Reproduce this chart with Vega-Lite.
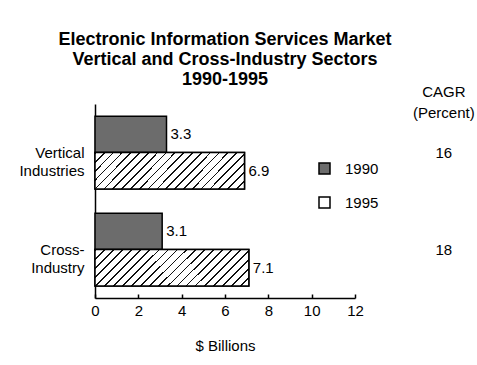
{
  "$schema": "https://vega.github.io/schema/vega-lite/v6.json",
  "autosize": {"type": "none"},
  "padding": {"left": 95, "top": 104, "right": 122, "bottom": 67},
  "width": 260,
  "height": 194,
  "config": {
    "font": "Liberation Sans",
    "view": {"stroke": null},
    "background": "white"
  },
  "title": {
    "text": ["Electronic Information Services Market", "Vertical and Cross-Industry Sectors", "1990-1995"],
    "fontSize": 18,
    "fontWeight": "bold",
    "lineHeight": 20,
    "color": "black",
    "anchor": "middle",
    "frame": "group",
    "offset": 7,
    "dy": 11
  },
  "datasets": {
    "market": [
      {"sector": "Vertical Industries", "year": "1990", "value": 3.3},
      {"sector": "Vertical Industries", "year": "1995", "value": 6.9},
      {"sector": "Cross-Industry", "year": "1990", "value": 3.1},
      {"sector": "Cross-Industry", "year": "1995", "value": 7.1}
    ],
    "cagr": [
      {"sector": "Vertical Industries", "cagr": 16},
      {"sector": "Cross-Industry", "cagr": 18}
    ],
    "header": [
      {"label": "CAGR\n(Percent)"}
    ]
  },
  "data": {"name": "market"},
  "encoding": {
    "y": {
      "field": "sector",
      "type": "nominal",
      "scale": {"domain": ["Vertical Industries", "Cross-Industry"], "paddingInner": 0.25, "paddingOuter": 0.125},
      "axis": {
        "title": null,
        "ticks": false,
        "domainColor": "black",
        "domainWidth": 1.5,
        "labelFontSize": 15,
        "labelColor": "black",
        "labelPadding": 11,
        "labelLineHeight": 18,
        "labelExpr": "datum.value == 'Cross-Industry' ? ['Cross-', 'Industry'] : split(datum.value, ' ')"
      }
    }
  },
  "layer": [
    {
      "mark": {"type": "bar", "stroke": "black", "strokeWidth": 1.5},
      "encoding": {
        "x": {
          "field": "value",
          "type": "quantitative",
          "scale": {"domain": [0, 12], "nice": false},
          "axis": {
            "title": "$ Billions",
            "titleFontSize": 15,
            "titleFontWeight": "normal",
            "titleColor": "black",
            "titlePadding": 20,
            "values": [0, 1, 2, 3, 4, 5, 6, 7, 8, 9, 10, 11, 12],
            "labelExpr": "datum.value % 2 === 0 ? datum.label : ''",
            "labelFontSize": 15,
            "labelColor": "black",
            "labelFlush": false,
            "labelPadding": 9,
            "tickSize": -4,
            "tickColor": "black",
            "tickWidth": 1.5,
            "domainColor": "black",
            "domainWidth": 1.5,
            "grid": false
          }
        },
        "yOffset": {"field": "year", "type": "nominal", "scale": {"domain": ["1990", "1995"], "paddingInner": 0, "paddingOuter": 0}},
        "fill": {
          "field": "year",
          "type": "nominal",
          "scale": {"domain": ["1990", "1995"], "range": ["#6c6c6c", "#ffffff"]},
          "legend": {
            "title": null,
            "orient": "none",
            "legendX": 222,
            "legendY": 57,
            "padding": 0,
            "symbolType": "square",
            "symbolSize": 121,
            "symbolStrokeColor": "black",
            "symbolStrokeWidth": 1.5,
            "labelFontSize": 15,
            "labelColor": "black",
            "labelOffset": 13,
            "rowPadding": 17
          }
        }
      }
    },
    {
      "transform": [{"filter": "datum.year == '1995'"}],
      "mark": {
        "type": "bar",
        "stroke": "black",
        "strokeWidth": 1.5,
        "fill": {
          "gradient": "linear",
          "x1": 0, "y1": 0, "x2": 1.1725, "y2": 0.2815,
          "stops": [
            {"offset": 0.0, "color": "#111"}, {"offset": 0.009, "color": "#111"}, {"offset": 0.009, "color": "#fff"}, {"offset": 0.047619, "color": "#fff"},
            {"offset": 0.047619, "color": "#111"}, {"offset": 0.056619, "color": "#111"}, {"offset": 0.056619, "color": "#fff"}, {"offset": 0.095238, "color": "#fff"},
            {"offset": 0.095238, "color": "#111"}, {"offset": 0.104238, "color": "#111"}, {"offset": 0.104238, "color": "#fff"}, {"offset": 0.142857, "color": "#fff"},
            {"offset": 0.142857, "color": "#111"}, {"offset": 0.151857, "color": "#111"}, {"offset": 0.151857, "color": "#fff"}, {"offset": 0.190476, "color": "#fff"},
            {"offset": 0.190476, "color": "#111"}, {"offset": 0.199476, "color": "#111"}, {"offset": 0.199476, "color": "#fff"}, {"offset": 0.238095, "color": "#fff"},
            {"offset": 0.238095, "color": "#111"}, {"offset": 0.247095, "color": "#111"}, {"offset": 0.247095, "color": "#fff"}, {"offset": 0.285714, "color": "#fff"},
            {"offset": 0.285714, "color": "#111"}, {"offset": 0.294714, "color": "#111"}, {"offset": 0.294714, "color": "#fff"}, {"offset": 0.333333, "color": "#fff"},
            {"offset": 0.333333, "color": "#111"}, {"offset": 0.342333, "color": "#111"}, {"offset": 0.342333, "color": "#fff"}, {"offset": 0.380952, "color": "#fff"},
            {"offset": 0.380952, "color": "#111"}, {"offset": 0.389952, "color": "#111"}, {"offset": 0.389952, "color": "#fff"}, {"offset": 0.428571, "color": "#fff"},
            {"offset": 0.428571, "color": "#111"}, {"offset": 0.437571, "color": "#111"}, {"offset": 0.437571, "color": "#fff"}, {"offset": 0.47619, "color": "#fff"},
            {"offset": 0.47619, "color": "#111"}, {"offset": 0.48519, "color": "#111"}, {"offset": 0.48519, "color": "#fff"}, {"offset": 0.52381, "color": "#fff"},
            {"offset": 0.52381, "color": "#111"}, {"offset": 0.53281, "color": "#111"}, {"offset": 0.53281, "color": "#fff"}, {"offset": 0.571429, "color": "#fff"},
            {"offset": 0.571429, "color": "#111"}, {"offset": 0.580429, "color": "#111"}, {"offset": 0.580429, "color": "#fff"}, {"offset": 0.619048, "color": "#fff"},
            {"offset": 0.619048, "color": "#111"}, {"offset": 0.628048, "color": "#111"}, {"offset": 0.628048, "color": "#fff"}, {"offset": 0.666667, "color": "#fff"},
            {"offset": 0.666667, "color": "#111"}, {"offset": 0.675667, "color": "#111"}, {"offset": 0.675667, "color": "#fff"}, {"offset": 0.714286, "color": "#fff"},
            {"offset": 0.714286, "color": "#111"}, {"offset": 0.723286, "color": "#111"}, {"offset": 0.723286, "color": "#fff"}, {"offset": 0.761905, "color": "#fff"},
            {"offset": 0.761905, "color": "#111"}, {"offset": 0.770905, "color": "#111"}, {"offset": 0.770905, "color": "#fff"}, {"offset": 0.809524, "color": "#fff"},
            {"offset": 0.809524, "color": "#111"}, {"offset": 0.818524, "color": "#111"}, {"offset": 0.818524, "color": "#fff"}, {"offset": 0.857143, "color": "#fff"},
            {"offset": 0.857143, "color": "#111"}, {"offset": 0.866143, "color": "#111"}, {"offset": 0.866143, "color": "#fff"}, {"offset": 0.904762, "color": "#fff"},
            {"offset": 0.904762, "color": "#111"}, {"offset": 0.913762, "color": "#111"}, {"offset": 0.913762, "color": "#fff"}, {"offset": 0.952381, "color": "#fff"},
            {"offset": 0.952381, "color": "#111"}, {"offset": 0.961381, "color": "#111"}, {"offset": 0.961381, "color": "#fff"}, {"offset": 1.0, "color": "#fff"}
          ]
        }
      },
      "encoding": {
        "x": {"field": "value", "type": "quantitative"},
        "yOffset": {"field": "year", "type": "nominal"}
      }
    },
    {
      "mark": {"type": "text", "align": "left", "baseline": "middle", "dx": 4, "fontSize": 15, "color": "black"},
      "encoding": {
        "x": {"field": "value", "type": "quantitative"},
        "yOffset": {"field": "year", "type": "nominal"},
        "text": {"field": "value", "type": "quantitative", "format": ".1f"}
      }
    },
    {
      "data": {"name": "cagr"},
      "mark": {"type": "text", "align": "center", "baseline": "middle", "fontSize": 15, "color": "black"},
      "encoding": {
        "x": {"datum": 16.1, "type": "quantitative"},
        "text": {"field": "cagr", "type": "quantitative"}
      }
    },
    {
      "data": {"name": "header"},
      "mark": {"type": "text", "align": "center", "baseline": "middle", "fontSize": 15, "color": "black", "lineBreak": "\n", "lineHeight": 21, "dy": -61},
      "encoding": {
        "x": {"datum": 16.1, "type": "quantitative"},
        "y": {"datum": "Vertical Industries", "type": "nominal"},
        "text": {"field": "label", "type": "nominal"}
      }
    }
  ]
}
